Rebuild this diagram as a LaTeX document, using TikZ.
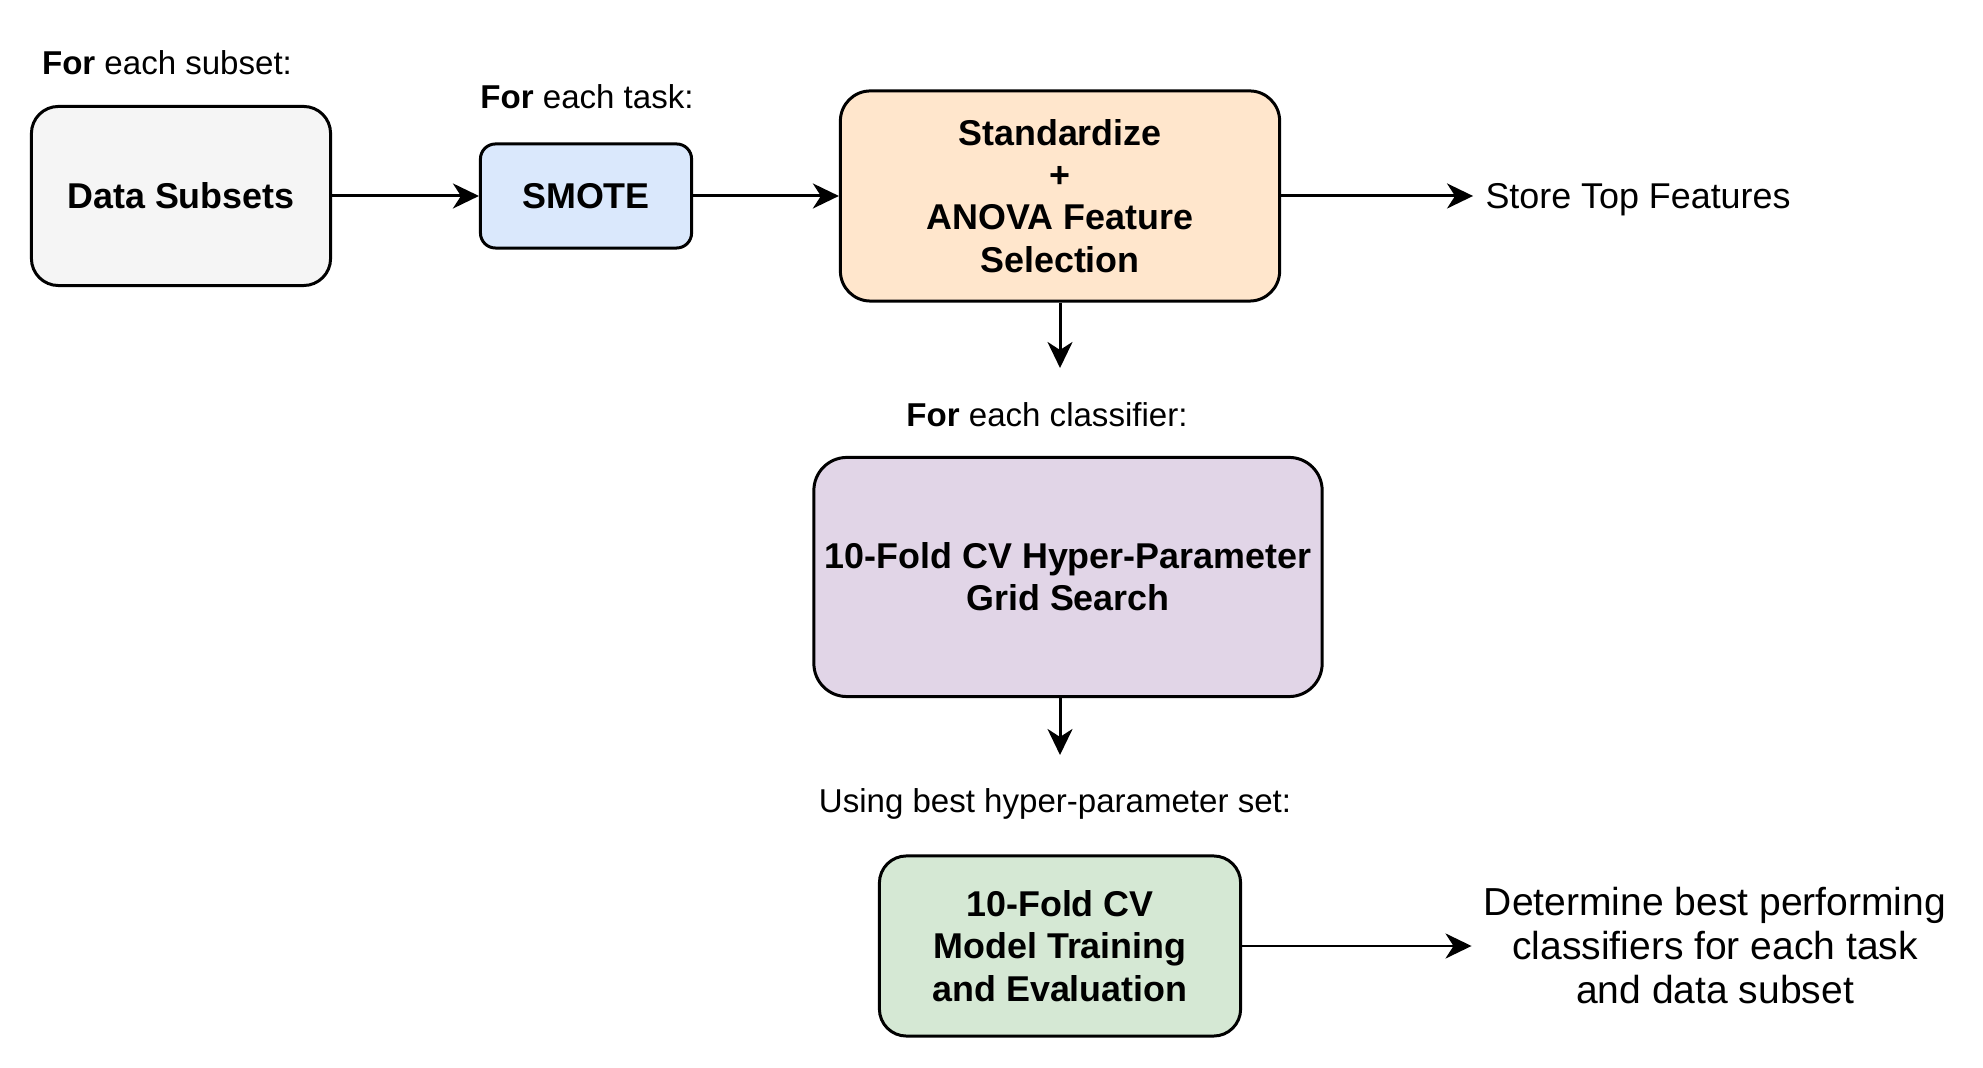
\documentclass[tikz,border=0pt]{standalone}
\usepackage{fontspec}
\setmainfont{Liberation Sans}
\usetikzlibrary{arrows.meta}
\definecolor{subsetgray}{HTML}{F5F5F5}
\definecolor{smoteblue}{HTML}{DAE8FC}
\definecolor{anovaorange}{HTML}{FFE6CC}
\definecolor{gridpurple}{HTML}{E1D5E7}
\definecolor{traingreen}{HTML}{D5E8D4}

\begin{document}
\begin{tikzpicture}[x=0.01cm, y=-0.01cm, every node/.style={align=center},
  box/.style={draw, rectangle, rounded corners=0.27cm, line width=0.85pt, inner sep=1pt, font=\fontsize{10.2}{12}\selectfont\bfseries},
  note/.style={font=\fontsize{9.4}{12}\selectfont},
  result/.style={font=\fontsize{10.2}{12.5}\selectfont},
  flow/.style={-{Stealth[length=0.26cm, width=0.25cm, inset=0.08cm]}, line width=0.85pt}]
\useasboundingbox (0,0) rectangle (1983,1068);

% Draw the stages as rounded boxes
\node[box, fill=subsetgray, minimum width=2.99cm, minimum height=1.79cm] (subsets) at (181,196) {Data Subsets};
\node[box, fill=smoteblue, rounded corners=0.15cm, minimum width=2.11cm, minimum height=1.04cm] (smote) at (586,196) {SMOTE};
\node[box, fill=anovaorange, rounded corners=0.3cm, minimum width=4.39cm, minimum height=2.10cm] (standardize) at (1060,196) {Standardize\\+\\ANOVA Feature\\Selection};
\node[box, fill=gridpurple, rounded corners=0.33cm, minimum width=5.08cm, minimum height=2.39cm] (gridsearch) at (1068,577) {10-Fold CV Hyper-Parameter\\Grid Search};
\node[box, fill=traingreen, minimum width=3.61cm, minimum height=1.80cm] (training) at (1060,946) {10-Fold CV\\Model Training\\and Evaluation};

% Loop labels
\node[note] (forsubset) at (167,63) {\textbf{For} each subset:};
\node[note] (fortask) at (587,97) {\textbf{For} each task:};
\node[note] (forclassifier) at (1047,415) {\textbf{For} each classifier:};
\node[note] (usingbest) at (1055,804) {Using best hyper-parameter set:};

% Outputs
\node[result] (store) at (1638,200) {Store Top Features};
\node[result, font=\fontsize{11.1}{12.5}\selectfont] (bestclf) at (1715,946) {Determine best performing\\classifiers for each task\\and data subset};
\coordinate (stdend) at (1060,368);
\coordinate (gridend) at (1060,755);

% Draw arrows
\draw[flow] (subsets) -- (smote);
\draw[flow] (smote) -- (standardize);
\draw[flow] (standardize.east) -- (store.west |- standardize.east);
\draw[flow] (standardize) -- (stdend);
\draw[flow] (gridsearch.south -| gridend) -- (gridend);
\draw[flow] (training) -- (bestclf);
\end{tikzpicture}
\end{document}
